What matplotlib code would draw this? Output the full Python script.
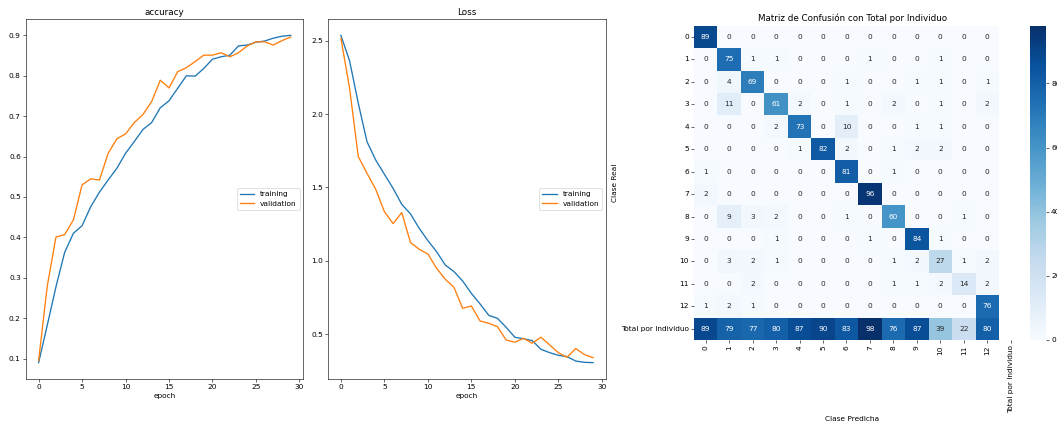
import numpy as np
import matplotlib
matplotlib.use("Agg")
import matplotlib.pyplot as plt
import seaborn as sns

epochs = list(range(30))

acc_train = [0.090, 0.183, 0.278, 0.363, 0.410, 0.429, 0.476, 0.512, 0.542, 0.571,
             0.608, 0.637, 0.667, 0.684, 0.721, 0.738, 0.769, 0.800, 0.799, 0.818,
             0.841, 0.847, 0.851, 0.874, 0.876, 0.883, 0.886, 0.893, 0.898, 0.900]
acc_val = [0.095, 0.280, 0.401, 0.407, 0.443, 0.530, 0.545, 0.542, 0.608, 0.644,
           0.656, 0.684, 0.704, 0.736, 0.789, 0.770, 0.810, 0.820, 0.835, 0.851,
           0.851, 0.857, 0.847, 0.857, 0.874, 0.884, 0.884, 0.876, 0.887, 0.896]

loss_train = [2.536, 2.362, 2.073, 1.812, 1.687, 1.590, 1.494, 1.385, 1.320, 1.222,
              1.138, 1.063, 0.972, 0.927, 0.863, 0.779, 0.707, 0.629, 0.609, 0.548,
              0.480, 0.470, 0.457, 0.398, 0.375, 0.357, 0.348, 0.318, 0.309, 0.307]
loss_val = [2.516, 2.175, 1.710, 1.597, 1.488, 1.335, 1.254, 1.329, 1.125, 1.079,
            1.047, 0.950, 0.875, 0.820, 0.677, 0.693, 0.591, 0.575, 0.552, 0.461,
            0.446, 0.473, 0.439, 0.480, 0.428, 0.375, 0.343, 0.403, 0.362, 0.341]

cm_rows = [
    [89, 0, 0, 0, 0, 0, 0, 0, 0, 0, 0, 0, 0],
    [0, 75, 1, 1, 0, 0, 0, 1, 0, 0, 1, 0, 0],
    [0, 4, 69, 0, 0, 0, 1, 0, 0, 1, 1, 0, 1],
    [0, 11, 0, 61, 2, 0, 1, 0, 2, 0, 1, 0, 2],
    [0, 0, 0, 2, 73, 0, 10, 0, 0, 1, 1, 0, 0],
    [0, 0, 0, 0, 1, 82, 2, 0, 1, 2, 2, 0, 0],
    [1, 0, 0, 0, 0, 0, 81, 0, 1, 0, 0, 0, 0],
    [2, 0, 0, 0, 0, 0, 0, 96, 0, 0, 0, 0, 0],
    [0, 9, 3, 2, 0, 0, 1, 0, 60, 0, 0, 1, 0],
    [0, 0, 0, 1, 0, 0, 0, 1, 0, 84, 1, 0, 0],
    [0, 3, 2, 1, 0, 0, 0, 0, 1, 2, 27, 1, 2],
    [0, 0, 2, 0, 0, 0, 0, 0, 1, 1, 2, 14, 2],
    [1, 2, 1, 0, 0, 0, 0, 0, 0, 0, 0, 0, 76],
]
total_row = [89, 79, 77, 80, 87, 90, 83, 98, 76, 87, 39, 22, 80]

classes = [str(i) for i in range(13)]
total_label = "Total por Individuo"
y_labels = classes + [total_label]
x_labels = classes + [total_label]

W, H = 1057, 424
dpi = 52.85
fig = plt.figure(figsize=(W / dpi, H / dpi), dpi=dpi)

def rect(l, t, r, b):
    return [l / W, 1 - b / H, (r - l) / W, (b - t) / H]

ax1 = fig.add_axes(rect(26, 19, 303.3, 379))
ax1.plot(epochs, acc_train, label="training", lw=1.8)
ax1.plot(epochs, acc_val, label="validation", lw=1.8)
ax1.set_title("accuracy")
ax1.set_xlabel("epoch")
ax1.legend(loc="center right")

ax2 = fig.add_axes(rect(328.3, 19, 605.7, 379))
ax2.plot(epochs, loss_train, label="training", lw=1.8)
ax2.plot(epochs, loss_val, label="validation", lw=1.8)
ax2.set_title("Loss")
ax2.set_xlabel("epoch")
ax2.legend(loc="center right")

ax3 = fig.add_axes(rect(694, 25.7, 1010.7, 340))
cax = fig.add_axes(rect(1030, 25.7, 1046, 340))
data = np.array(cm_rows + [total_row])
sns.heatmap(data, annot=True, fmt="d", cmap="Blues", ax=ax3, cbar_ax=cax,
            vmin=0)
ax3.set_xticks(np.arange(len(x_labels)) + 0.5)
ax3.set_xticklabels(x_labels, rotation=90)
ax3.set_yticks(np.arange(len(y_labels)) + 0.5)
ax3.set_yticklabels(y_labels, rotation=0)
ax3.set_xlim(0, 13.5)
ax3.set_ylim(14, 0)
ax3.set_title("Matriz de Confusión con Total por Individuo")
ax3.set_xlabel("Clase Predicha")
ax3.set_ylabel("Clase Real")

fig.savefig("out.png", dpi=dpi)
